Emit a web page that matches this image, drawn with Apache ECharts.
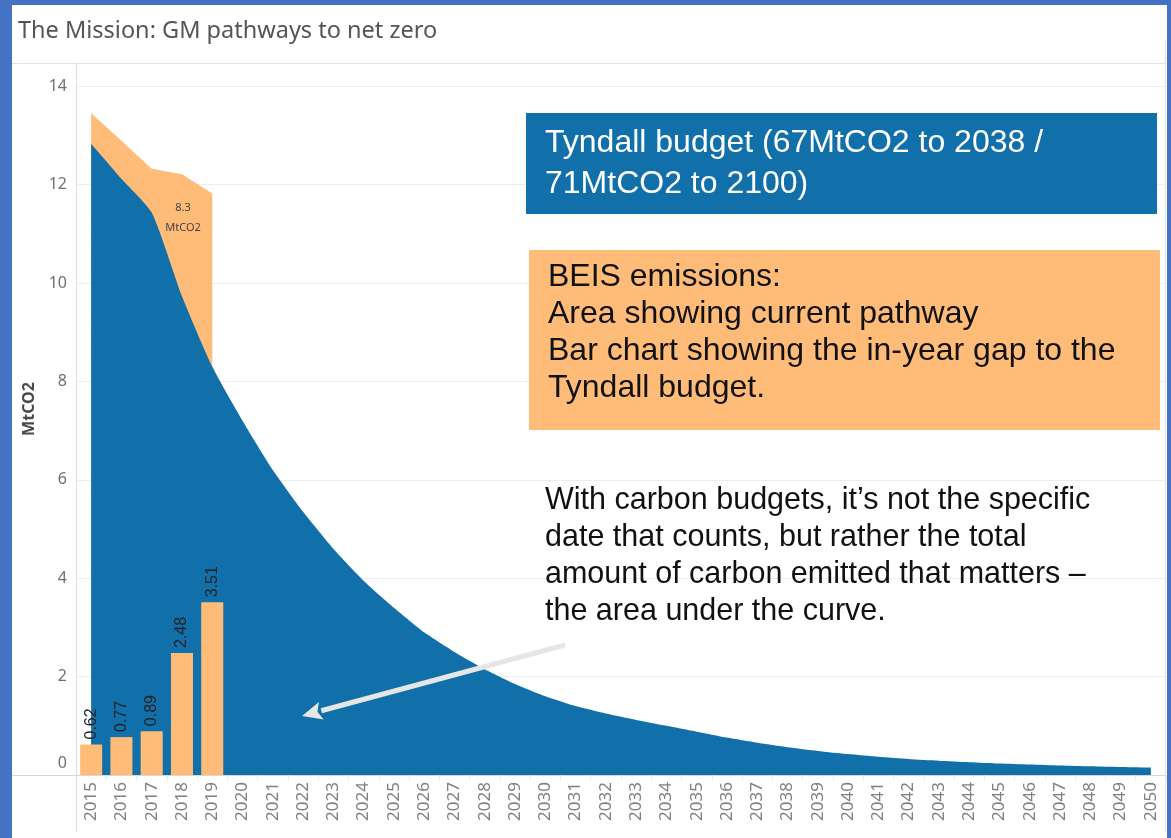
<!DOCTYPE html>
<html>
<head>
<meta charset="utf-8">
<script src="https://cdn.jsdelivr.net/npm/echarts@6/dist/echarts.min.js"></script>
<style>
html,body{margin:0;padding:0;background:#fff;}
#chart{width:1171px;height:838px;}
</style>
</head>
<body>
<div id="chart"></div>
<script>
const years = ['2015','2016','2017','2018','2019','2020','2021','2022','2023','2024','2025','2026','2027','2028','2029','2030','2031','2032','2033','2034','2035','2036','2037','2038','2039','2040','2041','2042','2043','2044','2045','2046','2047','2048','2049','2050'];
const tyndallBudget = [12.83,12.12,11.43,9.73,8.30,7.20,6.20,5.35,4.60,3.95,3.40,2.90,2.50,2.15,1.85,1.60,1.40,1.25,1.12,1.00,0.88,0.76,0.655,0.565,0.49,0.425,0.37,0.325,0.29,0.26,0.235,0.215,0.195,0.178,0.163,0.15];
const beisEmissions = [13.45,12.89,12.32,12.21,11.82];
const inYearGap = [0.62,0.77,0.89,2.48,3.51];
const yTicks = [0,2,4,6,8,10,12,14];

const titleText = 'The Mission: GM pathways to net zero';
const tyndallNote = ['Tyndall budget (67MtCO2 to 2038 /','71MtCO2 to 2100)'];
const beisNote = ['BEIS emissions:','Area showing current pathway','Bar chart showing the in-year gap to the','Tyndall budget.'];
const budgetNote = ['With carbon budgets, it\u2019s not the specific','date that counts, but rather the total','amount of carbon emitted that matters \u2013','the area under the curve.'];
const gapLabel = ['8.3','MtCO2'];

const BLUE = '#1170AA';
const ORANGE = '#FFBC79';
const FRAME = '#4472C4';
const LINE = '#e2e2e2';

const pad = (arr) => years.map((y, i) => i < arr.length ? arr[i] : null);

const chart = echarts.init(document.getElementById('chart'));

// arrow geometry (annotation)
const ax1 = 565, ay1 = 645, ax2 = 302, ay2 = 716;
const dx = ax2 - ax1, dy = ay2 - ay1, len = Math.sqrt(dx*dx + dy*dy);
const ux = dx/len, uy = dy/len, px = -uy, py = ux;
const headL = 20, headW = 9;
const bx = ax2 - ux*headL, by = ay2 - uy*headL;

chart.setOption({
  animation: false,
  backgroundColor: '#fff',
  grid: {left: 76, right: 5, top: 63, bottom: 63, containLabel: false},
  xAxis: {
    type: 'category',
    data: years,
    boundaryGap: true,
    axisLine: {show: true, lineStyle: {color: '#d6d6d6', width: 1}},
    axisTick: {show: true, interval: 0, length: 6, lineStyle: {color: '#ececec'}},
    axisLabel: {interval: 0, rotate: 90, margin: 7, fontFamily: 'Noto Sans', fontSize: 17, color: '#808080'},
    splitLine: {show: false}
  },
  yAxis: {
    type: 'value',
    min: 0,
    max: 14.47,
    interval: 2,
    name: 'MtCO2',
    nameLocation: 'middle',
    nameGap: 32,
    nameRotate: 90,
    nameTextStyle: {fontFamily: 'Noto Sans', fontSize: 16, fontWeight: 'bold', color: '#4a4a4a', padding: [0,0,0,20]},
    axisLine: {show: true, lineStyle: {color: '#dcdcdc'}},
    axisTick: {show: false},
    axisLabel: {
      showMaxLabel: false,
      margin: 9,
      fontFamily: 'Noto Sans', fontSize: 16, color: '#707070',
      formatter: (v) => yTicks.indexOf(v) < 0 ? '' : (v === 0 ? '{z|0}' : String(v)),
      rich: {z: {fontFamily: 'Noto Sans', fontSize: 16, color: '#707070', padding: [0,0,24,0]}}
    },
    splitLine: {show: true, lineStyle: {color: '#ececec', width: 1}}
  },
  series: [
    {
      name: 'BEIS emissions',
      type: 'line',
      data: pad(beisEmissions),
      symbol: 'none',
      lineStyle: {width: 0},
      areaStyle: {color: ORANGE, opacity: 1},
      z: 1
    },
    {
      name: 'Tyndall budget',
      type: 'line',
      data: tyndallBudget,
      symbol: 'none',
      smooth: 0.2,
      lineStyle: {width: 0},
      areaStyle: {color: BLUE, opacity: 1},
      z: 2
    },
    {
      name: 'In-year gap',
      type: 'bar',
      data: pad(inYearGap),
      barWidth: 22,
      itemStyle: {color: ORANGE},
      label: {
        show: true, position: 'top', rotate: 90, align: 'left', verticalAlign: 'middle',
        distance: 5, fontFamily: 'Liberation Sans', fontSize: 16, color: '#222',
        formatter: (p) => p.value.toFixed(2)
      },
      z: 3
    }
  ],
  graphic: [
    // outer frame
    {type: 'rect', shape: {x: 0, y: 0, width: 12, height: 838}, style: {fill: FRAME}, silent: true, z: 100},
    {type: 'rect', shape: {x: 0, y: 0, width: 1171, height: 5}, style: {fill: FRAME}, silent: true, z: 100},
    {type: 'rect', shape: {x: 1167, y: 0, width: 4, height: 838}, style: {fill: FRAME}, silent: true, z: 100},
    // worksheet lines
    {type: 'line', shape: {x1: 12, y1: 63.5, x2: 1166, y2: 63.5}, style: {stroke: LINE, lineWidth: 1}, silent: true, z: 50},
    {type: 'line', shape: {x1: 12, y1: 775.5, x2: 76, y2: 775.5}, style: {stroke: '#d6d6d6', lineWidth: 1}, silent: true, z: 50},
    {type: 'line', shape: {x1: 76.5, y1: 775, x2: 76.5, y2: 832}, style: {stroke: '#dcdcdc', lineWidth: 1}, silent: true, z: 50},
    {type: 'line', shape: {x1: 1165.5, y1: 40, x2: 1165.5, y2: 832}, style: {stroke: LINE, lineWidth: 1}, silent: true, z: 50},
    // title
    {type: 'text', x: 18, y: 31, style: {text: titleText, fontFamily: 'Noto Sans', fontSize: 23.5, fill: '#555', textVerticalAlign: 'middle'}, silent: true, z: 60},
    // gap label
    {type: 'text', x: 183, y: 218, style: {text: gapLabel.join('\n'), fontFamily: 'Noto Sans', fontSize: 11, lineHeight: 20, fill: '#444', textAlign: 'center', textVerticalAlign: 'middle'}, silent: true, z: 60},
    // Tyndall box
    {type: 'rect', shape: {x: 526, y: 113, width: 631, height: 101}, style: {fill: BLUE}, silent: true, z: 60},
    {type: 'text', x: 545, y: 122.5, style: {text: tyndallNote.join('\n'), fontFamily: 'Liberation Sans', fontSize: 32, lineHeight: 41, fill: '#fff', textVerticalAlign: 'top'}, silent: true, z: 61},
    // BEIS box
    {type: 'rect', shape: {x: 529, y: 250, width: 631, height: 180}, style: {fill: ORANGE}, silent: true, z: 60},
    {type: 'text', x: 548, y: 258.5, style: {text: beisNote.join('\n'), fontFamily: 'Liberation Sans', fontSize: 32, lineHeight: 37, fill: '#111', textVerticalAlign: 'top'}, silent: true, z: 61},
    // note
    {type: 'text', x: 545, y: 482.5, style: {text: budgetNote.join('\n'), fontFamily: 'Liberation Sans', fontSize: 30.5, lineHeight: 37, fill: '#111', textVerticalAlign: 'top'}, silent: true, z: 61},
    // arrow
    {type: 'line', shape: {x1: ax1, y1: ay1, x2: bx, y2: by}, style: {stroke: '#e6e6e6', lineWidth: 5}, silent: true, z: 62},
    {type: 'polygon', shape: {points: [[ax2, ay2], [bx + px*headW, by + py*headW], [bx + ux*4, by + uy*4], [bx - px*headW, by - py*headW]]}, style: {fill: '#e6e6e6'}, silent: true, z: 62}
  ]
});
</script>
</body>
</html>
